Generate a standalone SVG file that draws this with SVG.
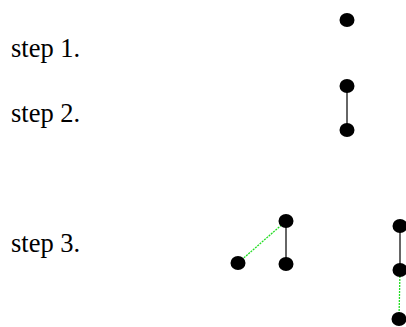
<svg xmlns="http://www.w3.org/2000/svg" width="406" height="327" viewBox="0 0 406 327">
<style>
.lbl{font-family:"Liberation Serif","Times New Roman",serif;font-size:26.5px;fill:#000}
.n{fill:#000}
.e{stroke:#333;stroke-width:1.5;fill:none}
.g{stroke:#22dd22;stroke-width:1.3;stroke-dasharray:2,1;fill:none}
</style>
<rect width="406" height="327" fill="#fff"/>
<g id="labels">
<text class="lbl" x="11" y="57">step 1.</text>
<text class="lbl" x="11" y="122">step 2.</text>
<text class="lbl" x="11" y="252">step 3.</text>
</g>
<g id="connectors">
<line class="e" x1="347" y1="86" x2="347" y2="130"/>
<line class="e" x1="286" y1="221" x2="286" y2="264"/>
<line class="g" x1="286" y1="221" x2="238" y2="263"/>
<line class="e" x1="400" y1="226" x2="400" y2="270"/>
<line class="g" x1="400" y1="270" x2="399" y2="319"/>
</g>
<g id="s1n1"><ellipse class="n" cx="347" cy="20" rx="7.5" ry="7"/></g>
<g id="s2n1"><ellipse class="n" cx="347" cy="86" rx="7.5" ry="7"/></g>
<g id="s2n2"><ellipse class="n" cx="347" cy="130" rx="7.5" ry="7"/></g>
<g id="s3n1"><ellipse class="n" cx="286" cy="221" rx="7.5" ry="7"/></g>
<g id="s3n2"><ellipse class="n" cx="286" cy="264" rx="7.5" ry="7"/></g>
<g id="s3n3"><ellipse class="n" cx="238" cy="263" rx="7.5" ry="7"/></g>
<g id="s3n4"><ellipse class="n" cx="400" cy="226" rx="7.5" ry="7"/></g>
<g id="s3n5"><ellipse class="n" cx="400" cy="270" rx="7.5" ry="7"/></g>
<g id="s3n6"><ellipse class="n" cx="399" cy="319" rx="7.5" ry="7"/></g>
</svg>
